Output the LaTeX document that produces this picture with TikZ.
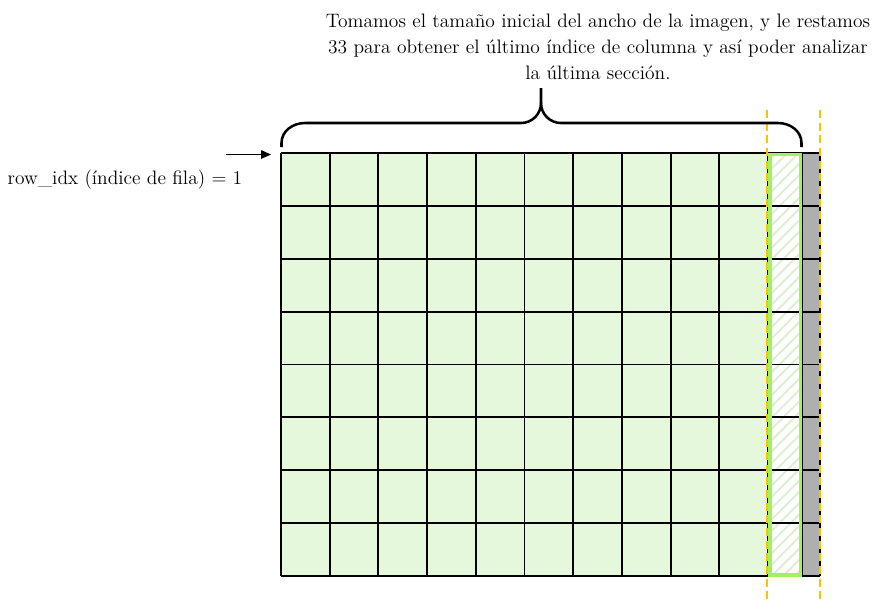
\documentclass[tikz,border=0pt]{standalone}
\usetikzlibrary{patterns.meta,arrows.meta}
\definecolor{cellgreen}{HTML}{E6F8DC}
\definecolor{limeedge}{HTML}{A4F060}
\definecolor{colgray}{HTML}{AEB0AF}
\definecolor{dashorange}{HTML}{FFC000}
\definecolor{hatchgreen}{HTML}{DCEFD0}
\begin{document}
\begin{tikzpicture}[x=0.75pt,y=-0.75pt,
  gridline/.style={line width=1.4pt,black},
  bracestyle/.style={line width=1.9pt,black},
  guide/.style={dashorange,line width=1.9pt,dash pattern=on 6pt off 3.5pt},
  lbl/.style={font=\fontsize{14.6}{19.5}\selectfont,inner sep=0pt}]
\useasboundingbox (0,0) rectangle (877,601);
% cells
\fill[cellgreen] (281,153) rectangle (768,576);
\fill[white] (768,153) rectangle (802,576);
\fill[pattern={Lines[angle=45,distance=6pt,line width=1.4pt]},pattern color=hatchgreen] (768,153) rectangle (802,576);
\fill[colgray] (802,153) rectangle (820,576);
% grid
\foreach \i in {0,...,10} \draw[gridline] ({281+48.7*\i},153) -- ({281+48.7*\i},576);
\draw[gridline] (802,153) -- (802,576);
\draw[gridline] (820,153) -- (820,576);
\foreach \j in {0,...,8} \draw[gridline] (281,{153+52.875*\j}) -- (820,{153+52.875*\j});
% highlighted column
\draw[limeedge,line width=2.8pt] (770,154.5) rectangle (800.5,575);
% guides
\draw[guide] (767,110) -- (767,601);
\draw[guide] (820,110) -- (820,601);
% brace
\draw[bracestyle] (281.5,147) -- (281.5,143) to[out=90,in=180] (305,123) -- (521,123) to[out=0,in=-90] (541,103) -- (541,88);
\draw[bracestyle] (801.5,147) -- (801.5,143) to[out=90,in=0] (778,123) -- (561,123) to[out=180,in=-90] (541,103);
% texts
\node[lbl,align=center] (title) at (598,47) {Tomamos el tamaño inicial del ancho de la imagen, y le restamos\\33 para obtener el último índice de columna y así poder analizar\\la última sección.};
\node[lbl] (rowlabel) at (125,180) {row\_idx (índice de fila) = 1};
\coordinate (arrowstart) at (226,154.5);
\coordinate (arrowend) at (271,154.5);
\draw[line width=0.75pt,-{Triangle[length=7.5pt,width=6.5pt]}] (arrowstart) -- (arrowend);
\end{tikzpicture}
\end{document}
